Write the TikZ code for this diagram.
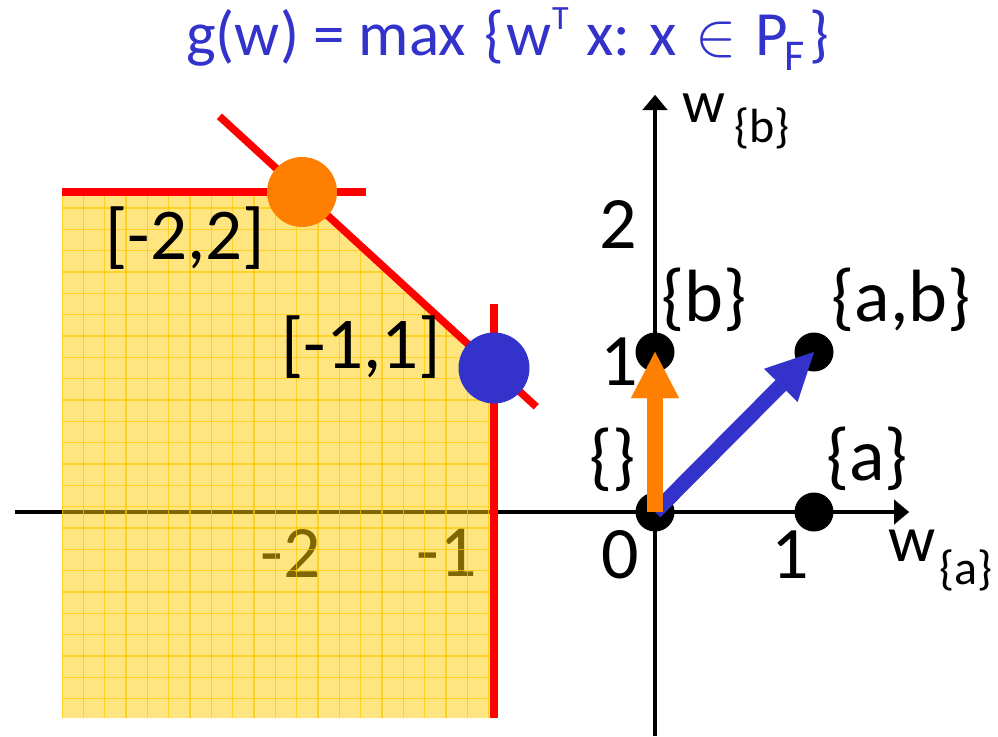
\documentclass[tikz,border=0pt]{standalone}
\usepackage{fontspec}
\setmainfont{Carlito}
\usetikzlibrary{arrows.meta,calc}
\definecolor{myblue}{RGB}{51,51,204}
\definecolor{myorange}{RGB}{255,128,0}
\definecolor{myred}{RGB}{255,0,0}
\definecolor{myyellow}{RGB}{255,204,0}
\definecolor{gridyellow}{RGB}{255,200,0}
\newcommand\myfs[1]{\fontsize{#1}{#1}\selectfont}
\begin{document}
\begin{tikzpicture}[x=1pt,y=-1pt,
  axis/.style={line width=4.5pt,-{Triangle[length=15pt,width=25pt,line width=0.01pt]}},
  redline/.style={myred,line width=7.5pt},
  dot/.style={circle,fill=black,minimum size=39pt,inner sep=0pt},
  bigdot/.style={circle,minimum size=70pt,inner sep=0pt},
  lbl/.style={inner sep=0pt,text=black},
  num/.style={lbl,font=\myfs{74}},
  setl/.style={lbl,font=\myfs{74}},
  ttl/.style={inner sep=0pt,text=myblue,anchor=base west,font=\myfs{63}}]
\useasboundingbox (0,0) rectangle (998,736);
% axes
\coordinate (xl) at (15,512);
\coordinate (xr) at (909,512);
\coordinate (yb) at (655,736);
\coordinate (yt) at (655,95);
\draw[axis] (xl) -- (xr);
\draw[axis] (yb) -- (yt);
% negative tick labels (under yellow)
\node[num] (m2) at (291,553) {-2};
\node[num] (m1) at (447,553) {-1};
% yellow feasible region
\fill[myyellow,fill opacity=0.5] (62,192) -- (302,192) -- (494,368) -- (494,718) -- (62,718) -- cycle;
\begin{scope}
  \clip (62,192) -- (302,192) -- (494,368) -- (494,718) -- (62,718) -- cycle;
  \foreach \i in {0,...,21} {
    \draw[gridyellow,line width=1.2pt,opacity=0.7] (62+21.33*\i,180) -- (62+21.33*\i,720);
  }
  \foreach \j in {0,...,25} {
    \draw[gridyellow,line width=1.2pt,opacity=0.7] (60,186.7+21.33*\j) -- (500,186.7+21.33*\j);
  }
\end{scope}
% circles at vertices
\node[bigdot] (oc) at (302,192) {};
\node[bigdot] (bc) at (494,368) {};
\coordinate (hl) at (62,192);
\coordinate (hr) at (366,192);
\coordinate (vt) at (494,304);
\coordinate (vb) at (494,718);
\draw[redline] (hl) -- (hr);
\draw[redline] ($(oc.center)!-0.43!(bc.center)$) -- ($(oc.center)!1.22!(bc.center)$);
\draw[redline] (vt) -- (vb);
\fill[myorange] (oc.center) circle (35pt);
\fill[myblue] (bc.center) circle (35.5pt);
% labels left
\node[lbl,font=\myfs{73}] (l22) at (185,238) {[-2,2]};
\node[lbl,font=\myfs{73}] (l11) at (361,347) {[-1,1]};
% black points
\node[dot] (o) at (655,512) {};
\node[dot] (a) at (814,512) {};
\node[dot] (b) at (655,352) {};
\node[dot] (ab) at (814,352) {};
% vectors
\draw[myblue,line width=15pt,-{Triangle[length=47pt,width=47pt,line width=0.01pt]}] (o.center) -- (ab.center);
\draw[myorange,line width=16pt,-{Triangle[length=46pt,width=48pt,line width=0.01pt]}] (o.center) -- (b.center);
% axis numbers
\node[num] (n2) at (618,224) {2};
\node[num] (n1y) at (619,362) {1};
\node[num] (n0) at (620,555) {0};
\node[num] (n1x) at (790,555) {1};
% set labels
\node[setl] (sb) at (704,300) {\{b\}};
\node[setl] (sab) at (901,300) {\{a,b\}};
\node[setl] (se) at (613,460) {\{\}};
\node[setl] (sa) at (867,459) {\{a\}};
% axis names
\node[lbl,font=\myfs{60}] (wb) at (704,108) {w};
\node[lbl,font=\myfs{48}] (wbs) at (762,128) {\{b\}};
\node[lbl,font=\myfs{66}] (wa) at (912,546) {w};
\node[lbl,font=\myfs{48}] (was) at (966,570) {\{a\}};
% title
\node[ttl] (t1) at (186,55) {g(w) = max};
\node[ttl] (t1b) at (484,55) {\{};
\node[ttl] (t2) at (506,55) {w};
\node[ttl,font=\myfs{34}] (t3) at (552,29) {T};
\node[ttl] (t4) at (586,55) {x: x};
\node[ttl] (t5) at (695,55) {\scalebox{6.2}{\fontsize{10}{12}\selectfont$\in$}};
\node[ttl] (t6) at (755,55) {P};
\node[ttl,font=\myfs{44}] (t7) at (784,70) {F};
\node[ttl] (t8) at (809,55) {\}};
\end{tikzpicture}
\end{document}
